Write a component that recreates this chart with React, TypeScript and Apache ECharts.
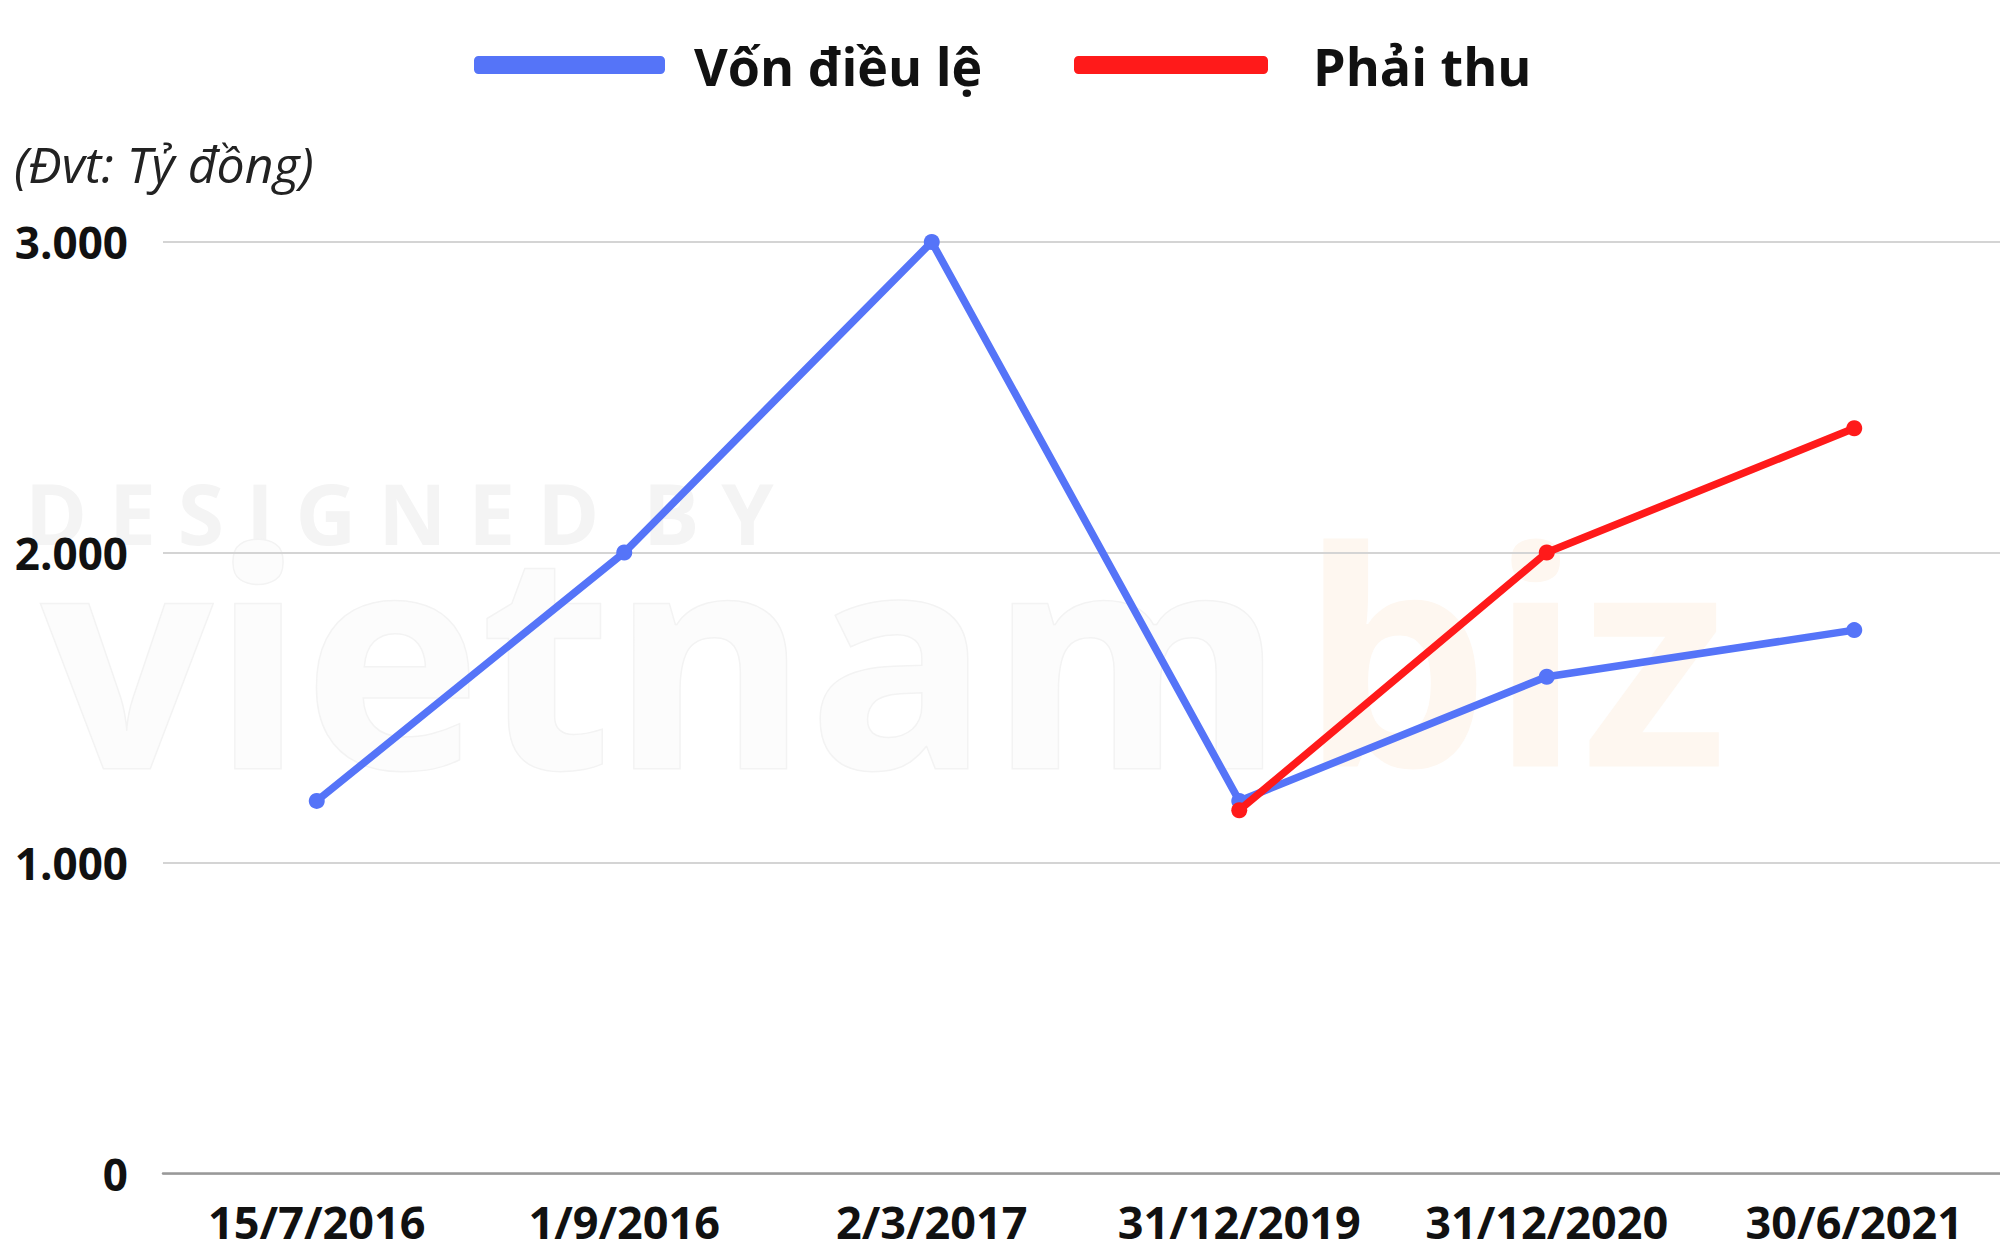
import React, { useEffect, useRef } from "react";
import * as echarts from "echarts";

const categories = ["15/7/2016", "1/9/2016", "2/3/2017", "31/12/2019", "31/12/2020", "30/6/2021"];
const vonDieuLe = [1200, 2000, 3000, 1200, 1600, 1750];
const phaiThu = [null, null, null, 1170, 2000, 2400];
const seriesNames = ["Vốn điều lệ", "Phải thu"];
const unitLabel = "(Đvt: Tỷ đồng)";
const yTicks = [0, 1000, 2000, 3000];

const FONT = "'Open Sans', 'Noto Sans', sans-serif";
const BLUE = "#5574F8";
const RED = "#FF1A1A";

function fmt(v: number) {
  return v === 0 ? "0" : v.toLocaleString("de-DE");
}

const legendText = (pad: number) => ({
  fontFamily: FONT,
  fontWeight: "bold",
  fontSize: 52,
  color: "#111111",
  padding: [0, 0, 0, pad],
});

export default function App() {
  const ref = useRef<HTMLDivElement>(null);
  useEffect(() => {
    if (!ref.current) return;
    const chart = echarts.init(ref.current, undefined, { renderer: "svg" });
    chart.setOption({
      animation: false,
      backgroundColor: "#ffffff",
      graphic: [
        {
          type: "text",
          z: -10,
          left: 25,
          top: 470,
          style: {
            text: "D E S I G N E D  B Y",
            font: `bold 84px ${FONT}`,
            fill: "#f4f4f4",
          },
        },
        {
          type: "text",
          z: -10,
          left: 40,
          top: 500,
          style: {
            text: "vietnam",
            font: `bold 300px ${FONT}`,
            fill: "#fcfcfc",
            stroke: "#f3f3f3",
            lineWidth: 3,
          },
        },
        {
          type: "text",
          z: -10,
          left: 1300,
          top: 500,
          style: {
            text: "biz",
            font: `bold 300px ${FONT}`,
            fill: "#fef7f0",
          },
        },
        {
          type: "text",
          left: 14,
          top: 139,
          style: {
            text: unitLabel,
            font: `italic 50px ${FONT}`,
            fill: "#222222",
          },
        },
      ],
      legend: [
        {
          left: 469,
          top: 34,
          itemWidth: 191,
          itemHeight: 18,
          icon: "roundRect",
          data: [seriesNames[0]],
          textStyle: legendText(24),
        },
        {
          left: 1069,
          top: 34,
          itemWidth: 194,
          itemHeight: 18,
          icon: "roundRect",
          data: [seriesNames[1]],
          textStyle: legendText(40),
        },
      ],
      grid: { left: 163, right: 0, top: 242, bottom: 81.5, containLabel: false },
      xAxis: {
        type: "category",
        data: categories,
        boundaryGap: true,
        axisLine: { show: true, lineStyle: { color: "#999999", width: 2.5 } },
        axisTick: { show: false },
        axisLabel: {
          interval: 0,
          fontFamily: FONT,
          fontWeight: "bold",
          fontSize: 45,
          color: "#111111",
          margin: 25,
        },
      },
      yAxis: {
        type: "value",
        min: yTicks[0],
        max: yTicks[yTicks.length - 1],
        interval: 1000,
        axisLine: { show: false },
        axisTick: { show: false },
        splitLine: { lineStyle: { color: "#d4d4d4", width: 2 } },
        axisLabel: {
          fontFamily: FONT,
          fontWeight: "bold",
          fontSize: 44,
          color: "#111111",
          margin: 35,
          formatter: (v: number) => fmt(v),
        },
      },
      series: [
        {
          name: seriesNames[0],
          type: "line",
          data: vonDieuLe,
          color: BLUE,
          symbol: "circle",
          symbolSize: 16,
          lineStyle: { width: 7.5, color: BLUE },
          itemStyle: { color: BLUE },
          z: 3,
        },
        {
          name: seriesNames[1],
          type: "line",
          data: phaiThu,
          color: RED,
          symbol: "circle",
          symbolSize: 16,
          lineStyle: { width: 7.5, color: RED },
          itemStyle: { color: RED },
          z: 4,
        },
      ],
    });
    return () => chart.dispose();
  }, []);
  return (
    <div
      ref={ref}
      style={{ position: "fixed", left: 0, top: 0, width: 2008, height: 1255 }}
    />
  );
}
